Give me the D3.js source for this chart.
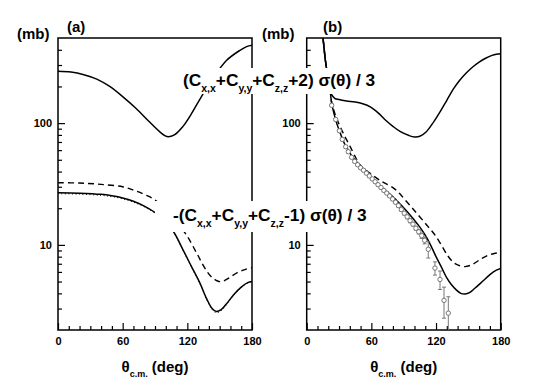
<!DOCTYPE html>
<html>
<head>
<meta charset="utf-8">
<script src="https://cdn.jsdelivr.net/npm/d3@7"></script>
<style>
body { margin: 0; background: #fff; }
svg { font-family: 'Liberation Sans', Arial, Helvetica, sans-serif; font-weight: bold; }
</style>
</head>
<body>
<div id="chart_parent"></div>
<script>
// tick values
const thetaMajorTicks = [0, 60, 120, 180];
const thetaMinorTicks = [10, 20, 30, 40, 50, 70, 80, 90, 100, 110, 130, 140, 150, 160, 170];
const mbMajorTicks = [10, 100];
const mbMinorTicks = [3, 4, 5, 6, 7, 8, 9, 20, 30, 40, 50, 60, 70, 80, 90, 200, 300, 400];

// panel (a): [theta (deg), mb]
const aSumPlus = [[0, 267], [12, 263], [24, 250], [36, 230], [48, 200], [60, 165], [72, 133], [85, 102], [95, 84],
    [101, 77.5], [108, 80], [116, 94], [124, 120], [132, 159], [144, 235], [156.5, 328], [168.8, 396], [175, 425], [180, 436]];
const aSumMinus = [[0, 26.8], [20, 26.6], [40, 26.0], [50, 25.3], [60, 24.3], [70, 22.8], [81, 20.6], [92, 17.9], [106, 13.3],
    [116, 9.1], [124, 6.6], [131.7, 4.85], [138, 3.6], [143, 3.0], [147, 2.84], [151, 2.92], [156, 3.25], [163, 3.9],
    [170, 4.5], [176, 4.9], [180, 5.0]];
const aSumMinusDotted = [[0, 26.3], [20, 26.1], [40, 25.5], [50, 24.9], [60, 23.9], [70, 22.4], [81, 20.3], [92, 17.6], [106, 13.1],
    [116, 9.0], [124, 6.5], [131.7, 4.8], [138, 3.55], [143, 2.94], [147, 2.77], [151, 2.86], [156, 3.2], [163, 3.85],
    [170, 4.45], [176, 4.85], [180, 4.95]];
const aSumMinusDashed = [[0, 32.4], [20, 32.2], [40, 31.4], [60, 30.0], [70, 28.2], [80, 26.0], [90, 23.4], [104, 17.5],
    [118, 12.5], [128.7, 8.55], [136, 6.5], [142, 5.5], [148, 5.05], [152, 5.0], [158, 5.3], [166, 5.9], [174, 6.3], [180, 6.5]];

// panel (b)
const bSumPlus = [[14, 580], [15.1, 500], [17.3, 330], [19.5, 245], [21.6, 190], [23, 172], [26, 160], [30, 156], [37, 152],
    [45, 149], [52, 144], [59, 136], [66, 122], [73, 106], [80, 94], [87, 85], [95, 79], [100, 77], [105, 78], [111, 85],
    [118, 103], [124, 125], [130, 154], [136, 190], [142, 225], [148, 258], [154, 289], [160, 317], [166, 341], [172, 360],
    [176, 368], [180, 372]];
const bSumMinus = [[14, 580], [15.1, 500], [17.3, 330], [19.5, 245], [21.6, 190], [23.2, 145], [25.5, 118], [27.8, 100],
    [30, 88], [32.5, 77], [35, 68], [38, 61], [41.7, 54], [45, 49.5], [49.4, 45], [55, 39.5], [60, 35.5], [65, 32.5],
    [72, 28.5], [80, 24.8], [86, 22], [92.7, 19], [99, 16.3], [105, 14.0], [110, 12], [114.4, 10.2], [120, 8.0],
    [126, 6.3], [130, 5.35], [134, 4.75], [139, 4.25], [143, 4.0], [147, 3.95], [151, 4.05], [156, 4.4], [163, 5.0],
    [170, 5.7], [176, 6.2], [180, 6.4]];
const bSumMinusDashed = [[14, 580], [15.1, 500], [17.3, 330], [19.5, 245], [21.6, 190], [23.2, 147], [26, 121], [30, 98],
    [35, 79], [40, 65], [46, 51], [49.4, 45.5], [60, 38], [70, 33], [80, 29.5], [86, 26.5], [91, 23.6], [97, 20.5],
    [102, 18.2], [108, 15.8], [113, 14], [118, 12.4], [124, 10.3], [131, 8.1], [136, 7.2], [140, 6.85], [146.8, 6.63],
    [152, 6.8], [156, 7.1], [162, 7.7], [168, 8.2], [174, 8.5], [180, 8.65]];

// panel (b) measured points
const bDataTheta = [23.2, 26.9, 30.3, 33.0, 36.2, 38.6, 41.7, 44.5, 47.3, 50, 52.7, 55.4, 58.1, 60.8, 63.5, 66.2, 68.9,
    71.6, 74.3, 77, 79.7, 82.4, 85.1, 87.8, 90.5, 93.2, 95.9, 98.6, 101.3, 104, 106.7, 109.4, 112.8, 119, 123.7, 127.4, 131.4];
const bDataValue = [140, 107, 86.5, 73.5, 64, 58.2, 52.4, 48.5, 45.5, 43, 41, 38.8, 36.8, 34.8, 33, 31.2, 29.6,
    28, 26.6, 25.2, 23.8, 22.4, 21, 19.5, 18.2, 17, 15.8, 14.8, 13.7, 12.8, 11.9, 10.9, 9.2, 6.45, 5.2, 3.5, 2.75];
const bDataError = [3, 2.5, 2, 1.8, 1.6, 1.4, 1.3, 1.2, 1.1, 1, 1, 0.9, 0.9, 0.9, 0.8, 0.8, 0.8,
    0.7, 0.7, 0.7, 0.7, 0.6, 0.6, 0.6, 0.6, 0.6, 0.6, 0.5, 0.5, 0.5, 0.6, 0.7, 1.4, 0.8, 0.9, 1.0, 1.0];

const chartConfig = {
    outerWidth: 556,
    outerHeight: 385,
    top: 38,
    bottom: 330,
    thetaDomain: [0, 180],
    mbDomain: [2, 500],
    fontFamily: "'Liberation Sans', Arial, Helvetica, sans-serif",
};

const panels = [
    { key: 'a', left: 58, right: 252, mbX: 17, tagX: 67, solid: aSumMinus, dotted: aSumMinusDotted, dashed: aSumMinusDashed, upper: aSumPlus, points: false },
    { key: 'b', left: 306.7, right: 500.7, mbX: 262, tagX: 323, solid: bSumMinus, dotted: null, dashed: bSumMinusDashed, upper: bSumPlus, points: true },
];

const svg = d3.select('#chart_parent').append('svg')
    .attr('width', chartConfig.outerWidth)
    .attr('height', chartConfig.outerHeight);

function styleAxis(g) {
    g.select('.domain').remove();
    g.attr('font-family', chartConfig.fontFamily).attr('font-size', 11).attr('font-weight', 'bold');
    g.selectAll('line').attr('stroke', '#000').attr('stroke-width', 1.2);
    g.selectAll('text').attr('fill', '#000');
}

function drawPanel(panel) {
    const xScale = d3.scaleLinear().domain(chartConfig.thetaDomain).range([panel.left, panel.right]);
    const yScale = d3.scaleLog().domain(chartConfig.mbDomain).range([chartConfig.bottom, chartConfig.top]);
    const g = svg.append('g').attr('class', `panel-${panel.key}`);

    // axes, ticks point inward
    g.append('g').attr('transform', `translate(${panel.left},0)`)
        .call(d3.axisLeft(yScale).tickValues(mbMinorTicks).tickSizeInner(-4).tickSizeOuter(0).tickFormat(''))
        .call(styleAxis);
    g.append('g').attr('transform', `translate(${panel.left},0)`)
        .call(d3.axisLeft(yScale).tickValues(mbMajorTicks).tickSizeInner(-7).tickSizeOuter(0).tickPadding(6).tickFormat(d3.format('d')))
        .call(styleAxis);
    g.append('g').attr('transform', `translate(0,${chartConfig.bottom})`)
        .call(d3.axisBottom(xScale).tickValues(thetaMinorTicks).tickSizeInner(-4).tickSizeOuter(0).tickFormat(''))
        .call(styleAxis);
    g.append('g').attr('transform', `translate(0,${chartConfig.bottom})`)
        .call(d3.axisBottom(xScale).tickValues(thetaMajorTicks).tickSizeInner(-7).tickSizeOuter(0).tickPadding(7))
        .call(styleAxis);

    g.append('rect')
        .attr('x', panel.left)
        .attr('y', chartConfig.top)
        .attr('width', panel.right - panel.left)
        .attr('height', chartConfig.bottom - chartConfig.top)
        .attr('fill', 'none')
        .attr('stroke', '#000')
        .attr('stroke-width', 1.5);

    const clipId = `clip-${panel.key}`;
    svg.append('clipPath').attr('id', clipId).append('rect')
        .attr('x', panel.left)
        .attr('y', chartConfig.top)
        .attr('width', panel.right - panel.left)
        .attr('height', chartConfig.bottom - chartConfig.top);

    const line = d3.line()
        .x(d => xScale(d[0]))
        .y(d => yScale(d[1]))
        .curve(d3.curveCatmullRom.alpha(0.5));

    const curves = g.append('g').attr('clip-path', `url(#${clipId})`).attr('fill', 'none').attr('stroke', '#000');
    curves.append('path').attr('d', line(panel.upper)).attr('stroke-width', 1.5);
    curves.append('path').attr('d', line(panel.dashed)).attr('stroke-width', 1.4).attr('stroke-dasharray', '6,4');
    if (panel.dotted) {
        curves.append('path').attr('d', line(panel.dotted)).attr('stroke-width', 1).attr('stroke-dasharray', '1,2.5');
    }
    curves.append('path').attr('d', line(panel.solid)).attr('stroke-width', 1.5);

    if (panel.points) {
        const pts = bDataTheta.map((t, i) => ({ t, v: bDataValue[i], e: bDataError[i] }));
        const pg = g.append('g').attr('clip-path', `url(#${clipId})`).attr('stroke', '#777').attr('stroke-width', 1);
        const bars = pg.selectAll('.err').data(pts).enter().append('g').attr('class', 'err');
        bars.append('line')
            .attr('x1', d => xScale(d.t)).attr('x2', d => xScale(d.t))
            .attr('y1', d => yScale(d.v + d.e)).attr('y2', d => yScale(Math.max(d.v - d.e, 1)));
        bars.append('line')
            .attr('x1', d => xScale(d.t) - 2).attr('x2', d => xScale(d.t) + 2)
            .attr('y1', d => yScale(d.v + d.e)).attr('y2', d => yScale(d.v + d.e));
        bars.append('line')
            .attr('x1', d => xScale(d.t) - 2).attr('x2', d => xScale(d.t) + 2)
            .attr('y1', d => yScale(Math.max(d.v - d.e, 1))).attr('y2', d => yScale(Math.max(d.v - d.e, 1)));
        pg.selectAll('.pt').data(pts).enter().append('circle')
            .attr('class', 'pt')
            .attr('cx', d => xScale(d.t))
            .attr('cy', d => yScale(d.v))
            .attr('r', 2.2)
            .attr('fill', '#fff');
    }

    // titles
    const cx = (panel.left + panel.right) / 2;
    const xt = g.append('text').attr('x', cx).attr('y', 372).attr('text-anchor', 'middle').attr('font-size', 15);
    xt.append('tspan').text('θ');
    xt.append('tspan').attr('font-size', 9).attr('dy', 5).text('c.m.');
    xt.append('tspan').attr('dy', -5).text(' (deg)');

    g.append('text').attr('x', panel.mbX).attr('y', 39).attr('font-size', 15).text('(mb)');
    g.append('text').attr('x', panel.tagX).attr('y', 32).attr('font-size', 15).text(`(${panel.key})`);
}

function drawLabel(x, y, parts, pad) {
    const g = svg.append('g');
    const bg = g.append('rect').attr('fill', '#fff');
    const t = g.append('text').attr('x', x).attr('y', y).attr('font-size', 17.3);
    parts.forEach((p, i) => {
        const sub = i % 2 === 1;
        t.append('tspan')
            .attr('font-size', sub ? 10.5 : 17.3)
            .attr('dy', sub ? 6 : (i > 0 ? -6 : 0))
            .text(p);
    });
    const bb = t.node().getBBox();
    bg.attr('x', bb.x - pad[0]).attr('y', bb.y - pad[1])
        .attr('width', bb.width + pad[0] + pad[2])
        .attr('height', bb.height + pad[1] + pad[3]);
}

panels.forEach(drawPanel);

drawLabel(183, 86, ['(C', 'x,x', '+C', 'y,y', '+C', 'z,z', '+2) σ(θ) / 3'], [3, 2, 3, 0]);
drawLabel(173, 221, ['-(C', 'x,x', '+C', 'y,y', '+C', 'z,z', '-1) σ(θ) / 3'], [18, 4, 3, 3]);
</script>
</body>
</html>
